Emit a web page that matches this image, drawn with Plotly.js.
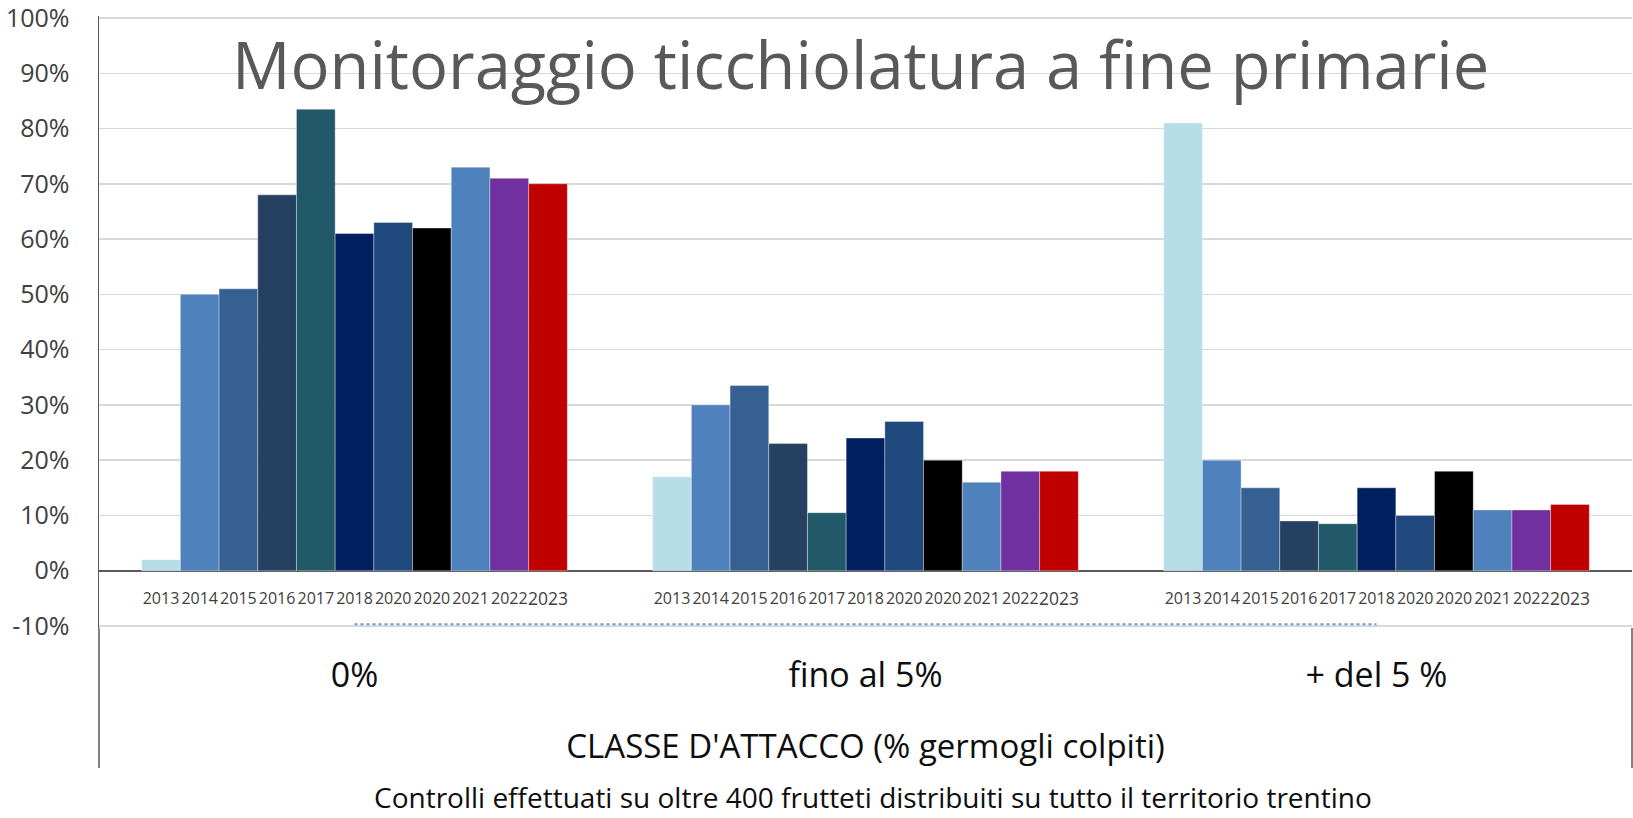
<!DOCTYPE html>
<html>
<head>
<meta charset="utf-8">
<script src="https://cdn.plot.ly/plotly-3.0.1.min.js"></script>
<style>html,body{margin:0;padding:0;background:#fff;}#chart{width:1633px;height:818px;}</style>
</head>
<body>
<div id="chart"></div>
<script>
// ---- data ----
const categories = ['0%', 'fino al 5%', '+ del 5 %'];
const years = ['2013', '2014', '2015', '2016', '2017', '2018', '2020', '2020', '2021', '2022', '2023'];
const y2013 = [0.02, 0.17, 0.81];
const y2014 = [0.50, 0.30, 0.20];
const y2015 = [0.51, 0.335, 0.15];
const y2016 = [0.68, 0.23, 0.09];
const y2017 = [0.835, 0.105, 0.085];
const y2018 = [0.61, 0.24, 0.15];
const y2020a = [0.63, 0.27, 0.10];
const y2020b = [0.62, 0.20, 0.18];
const y2021 = [0.73, 0.16, 0.11];
const y2022 = [0.71, 0.18, 0.11];
const y2023 = [0.70, 0.18, 0.12];
const refLine = [-0.097, -0.097, -0.097];
const yTickVals = [-0.1, 0, 0.1, 0.2, 0.3, 0.4, 0.5, 0.6, 0.7, 0.8, 0.9, 1.0];
const yTickText = ['-10%', '0%', '10%', '20%', '30%', '40%', '50%', '60%', '70%', '80%', '90%', '100%'];

// ---- styles ----
const series = [y2013, y2014, y2015, y2016, y2017, y2018, y2020a, y2020b, y2021, y2022, y2023];
const colors = ['#B7DEE8', '#4F81BD', '#366092', '#254061', '#215968', '#002060',
                '#1F497D', '#000000', '#4F81BD', '#7030A0', '#C00000'];
const FONT = 'Open Sans, sans-serif';
const LABEL_BAND = -0.1; // depth of the transparent band that carries the year labels

const data = [];
series.forEach((vals, i) => {
  data.push({
    type: 'bar', x: categories, y: vals, offsetgroup: 'g' + i, name: years[i],
    marker: {color: colors[i], line: {width: 1, color: 'rgba(255,255,255,0.35)'}},
    hoverinfo: 'skip'
  });
});
years.forEach((yr, i) => {
  data.push({
    type: 'bar', x: categories, y: categories.map(() => LABEL_BAND), offsetgroup: 'g' + i,
    marker: {color: 'rgba(0,0,0,0)', line: {width: 0}},
    text: categories.map(() => yr), textposition: 'inside', insidetextanchor: 'middle',
    textangle: 0, constraintext: 'none',
    insidetextfont: {family: FONT, size: i === years.length - 1 ? 17.5 : 16, color: '#404040'},
    hoverinfo: 'skip'
  });
});
data.push({
  type: 'scatter', mode: 'lines', x: categories, y: refLine,
  line: {color: '#6F9BD5', width: 2, dash: 'dot'}, hoverinfo: 'skip'
});

const layout = {
  width: 1633, height: 818,
  margin: {l: 99, r: 1, t: 16, b: 190},
  paper_bgcolor: '#ffffff', plot_bgcolor: '#ffffff',
  showlegend: false, hovermode: false,
  barmode: 'group', bargap: 0.167, bargroupgap: 0,
  font: {family: FONT, color: '#404040'},
  title: {
    text: 'Monitoraggio ticchiolatura a fine primarie',
    font: {family: FONT, size: 65, color: '#595959'},
    x: 0.527, xanchor: 'center', y: 0.919, yanchor: 'middle'
  },
  xaxis: {
    type: 'category', showgrid: false, showline: false, zeroline: false, ticks: '',
    tickfont: {family: FONT, size: 34, color: '#0D0D0D'},
    ticklabelstandoff: 24,
    title: {text: "CLASSE D'ATTACCO (% germogli colpiti)", font: {family: FONT, size: 33, color: '#0D0D0D'}, standoff: 38}
  },
  yaxis: {
    range: [-0.1036, 1.0036], tickvals: yTickVals, ticktext: yTickText,
    showgrid: true, gridcolor: '#D9D9D9', gridwidth: 1.5,
    zeroline: true, zerolinecolor: '#595959', zerolinewidth: 2,
    showline: true, linecolor: '#595959', linewidth: 1.5,
    ticks: '', ticklabelstandoff: 23, ticklabeloverflow: 'allow',
    tickfont: {family: FONT, size: 25, color: '#404040'}
  },
  shapes: [
    {type: 'line', xref: 'paper', yref: 'paper', x0: 0, x1: 0, y0: 0, y1: -0.2288,
     line: {color: '#595959', width: 1.5}},
    {type: 'line', xref: 'paper', yref: 'paper', x0: 1, x1: 1, y0: 0, y1: -0.2288,
     line: {color: '#595959', width: 1.5}}
  ],
  annotations: [{
    text: 'Controlli effettuati su oltre 400 frutteti distribuiti su tutto il territorio trentino',
    xref: 'paper', yref: 'paper', x: 0.505, y: -0.276, xanchor: 'center', yanchor: 'middle',
    showarrow: false, font: {family: FONT, size: 28, color: '#0D0D0D'}
  }]
};

Plotly.newPlot('chart', data, layout, {staticPlot: true, displayModeBar: false});
</script>
</body>
</html>
